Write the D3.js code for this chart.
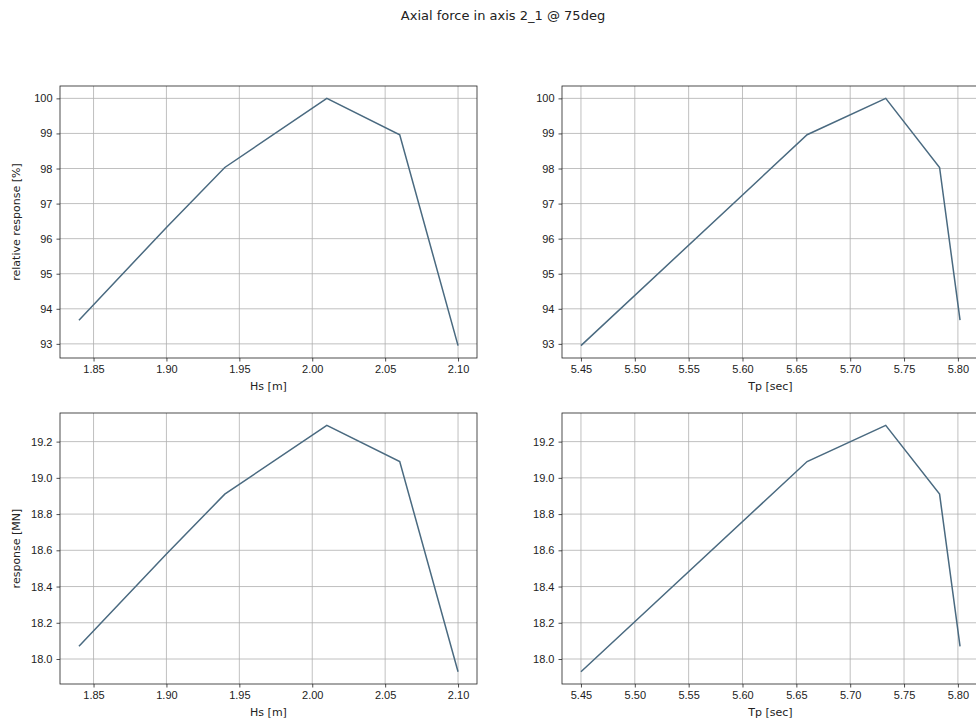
<!DOCTYPE html>
<html>
<head>
<meta charset="utf-8">
<script src="https://cdn.jsdelivr.net/npm/d3@7"></script>
<style>
  body { margin: 0; background: #fff; }
  svg { font-family: "DejaVu Sans", sans-serif; }
  .tick text { fill: #222; font-size: 11px; }
  .grid line { stroke: #b0b0b0; stroke-width: 0.8; }
</style>
</head>
<body>
<svg id="chart" width="976" height="722"></svg>
<script>
// samples
var hs = [1.84, 1.90, 1.94, 2.01, 2.06, 2.10];
var hsResp = [18.07, 18.58, 18.91, 19.29, 19.09, 17.93];
var tp = [5.45, 5.66, 5.733, 5.783, 5.802];
var tpResp = [17.93, 19.09, 19.29, 18.91, 18.07];

var hsTicks = [1.85, 1.90, 1.95, 2.00, 2.05, 2.10];
var tpTicks = [5.45, 5.50, 5.55, 5.60, 5.65, 5.70, 5.75, 5.80];
var relTicks = [93, 94, 95, 96, 97, 98, 99, 100];
var respTicks = [18.0, 18.2, 18.4, 18.6, 18.8, 19.0, 19.2];

var peak = d3.max(hsResp);
function rel(v) { return v / peak * 100; }

var svg = d3.select('#chart');

// the figure is wider than the window, so its centre sits right of 488
svg.append('text').attr('x', 503).attr('y', 20)
  .attr('text-anchor', 'middle').attr('font-size', 13).attr('fill', '#222')
  .text('Axial force in axis 2_1 @ 75deg');

function padded(ext) {
  var m = (ext[1] - ext[0]) * 0.05;
  return [ext[0] - m, ext[1] + m];
}

function panel(o) {
  var w = o.w, h = o.h;
  var g = svg.append('g').attr('transform', 'translate(' + o.x + ',' + o.y + ')');
  var x = d3.scaleLinear().domain(padded(d3.extent(o.xs))).range([0, w]);
  var y = d3.scaleLinear().domain(padded(d3.extent(o.ys))).range([h, 0]);

  g.append('g').attr('class', 'grid')
    .selectAll('line.v').data(o.xt).join('line')
    .attr('x1', d => x(d)).attr('x2', d => x(d)).attr('y1', 0).attr('y2', h);
  g.append('g').attr('class', 'grid')
    .selectAll('line.h').data(o.yt).join('line')
    .attr('y1', d => y(d)).attr('y2', d => y(d)).attr('x1', 0).attr('x2', w);

  var pts = o.xs.map((d, i) => [d, o.ys[i]]);
  g.append('path').datum(pts)
    .attr('fill', 'none').attr('stroke', '#4a6a80').attr('stroke-width', 1.5)
    .attr('d', d3.line().x(d => x(d[0])).y(d => y(d[1])));

  var xa = g.append('g').attr('transform', 'translate(0,' + h + ')')
    .call(d3.axisBottom(x).tickValues(o.xt).tickFormat(d3.format('.2f')).tickSize(3.5).tickPadding(4));
  var ya = g.append('g')
    .call(d3.axisLeft(y).tickValues(o.yt).tickFormat(o.yf).tickSize(3.5).tickPadding(4));
  [xa, ya].forEach(function(a) {
    a.select('.domain').remove();
    a.selectAll('.tick line').attr('stroke', '#222').attr('stroke-width', 0.8);
  });

  g.append('rect').attr('width', w).attr('height', h)
    .attr('fill', 'none').attr('stroke', '#222').attr('stroke-width', 0.8);

  g.append('text').attr('x', w / 2).attr('y', h + 32)
    .attr('text-anchor', 'middle').attr('font-size', 11).attr('fill', '#222')
    .text(o.xl);
  if (o.yl) {
    g.append('text').attr('transform', 'translate(' + (-40) + ',' + (h / 2) + ') rotate(-90)')
      .attr('text-anchor', 'middle').attr('font-size', 11).attr('fill', '#222')
      .text(o.yl);
  }
}

var W = 417, H = 272;
panel({ x: 60, y: 86, w: W, h: H, xs: hs, ys: hsResp.map(rel), xt: hsTicks, yt: relTicks,
  yf: d3.format('d'), xl: 'Hs [m]', yl: 'relative response [%]' });
panel({ x: 562, y: 86, w: W, h: H, xs: tp, ys: tpResp.map(rel), xt: tpTicks, yt: relTicks,
  yf: d3.format('d'), xl: 'Tp [sec]' });
panel({ x: 60, y: 413, w: W, h: 271, xs: hs, ys: hsResp, xt: hsTicks, yt: respTicks,
  yf: d3.format('.1f'), xl: 'Hs [m]', yl: 'response [MN]' });
panel({ x: 562, y: 413, w: W, h: 271, xs: tp, ys: tpResp, xt: tpTicks, yt: respTicks,
  yf: d3.format('.1f'), xl: 'Tp [sec]' });
</script>
</body>
</html>
